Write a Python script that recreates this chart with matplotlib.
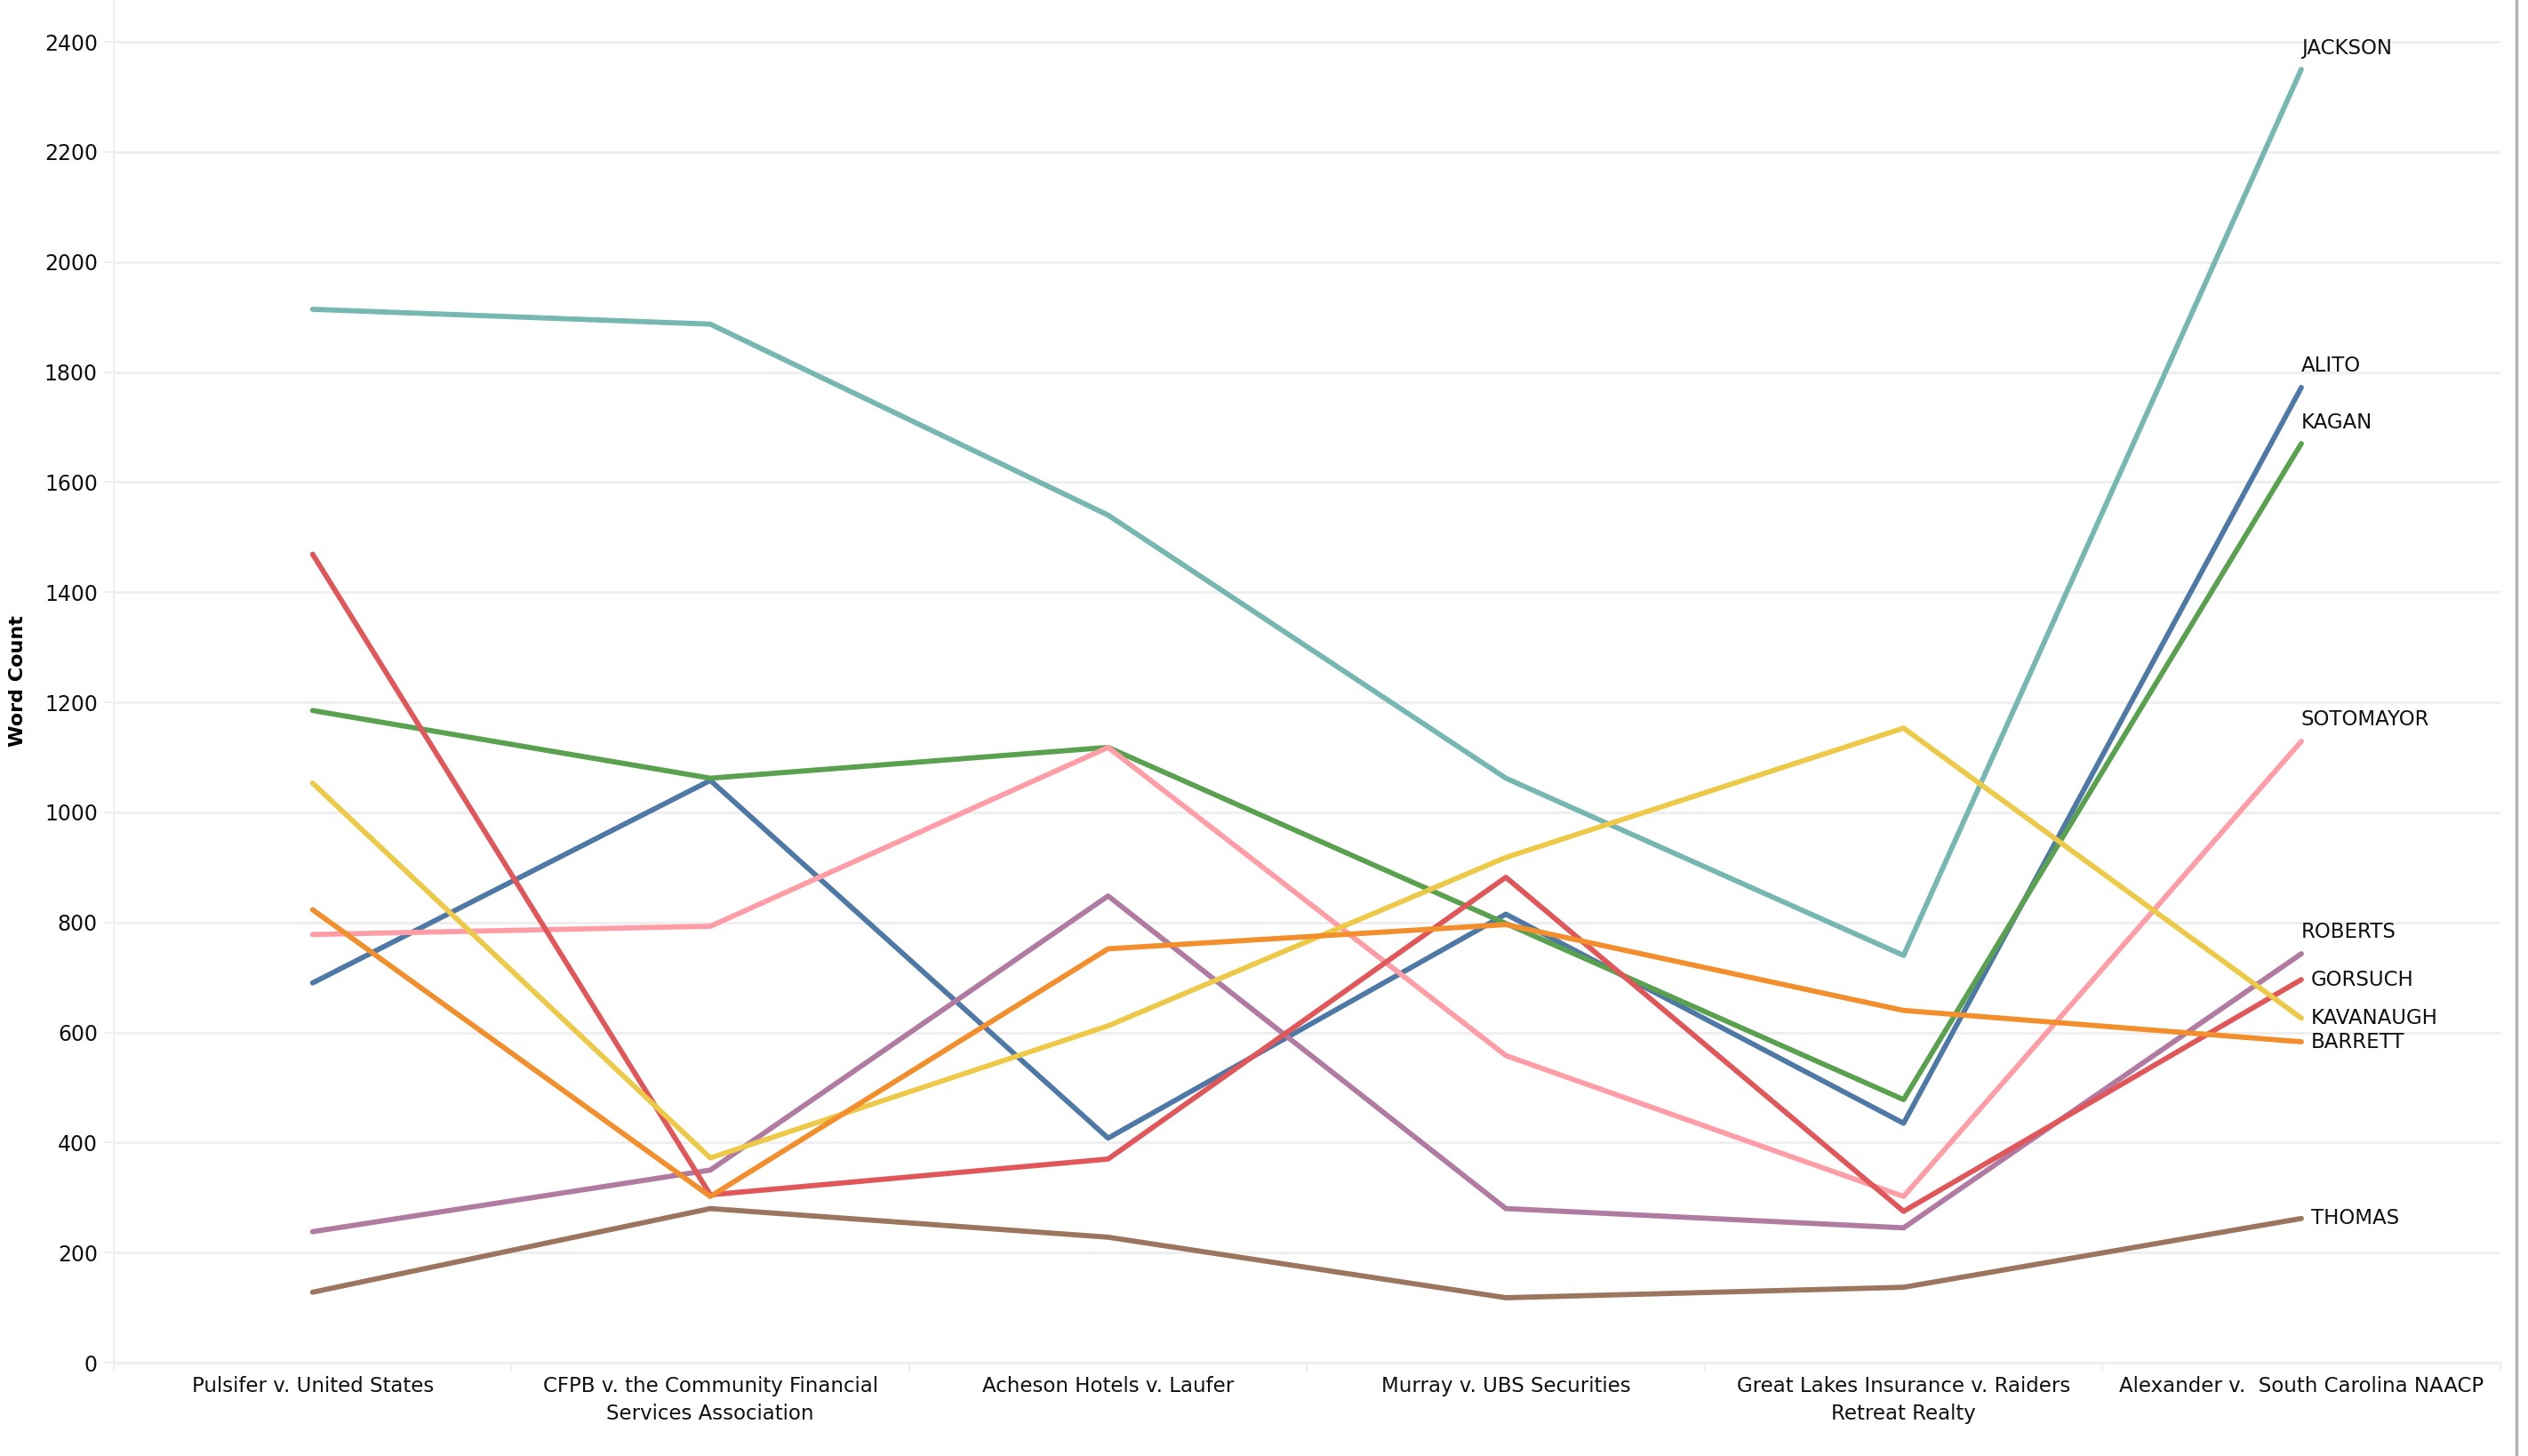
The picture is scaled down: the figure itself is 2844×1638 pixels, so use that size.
import matplotlib.pyplot as plt
from matplotlib.lines import Line2D

cases = [
    'Pulsifer v. United States',
    'CFPB v. the Community Financial\nServices Association',
    'Acheson Hotels v. Laufer',
    'Murray v. UBS Securities',
    'Great Lakes Insurance v. Raiders\nRetreat Realty',
    'Alexander v.  South Carolina NAACP',
]

jackson = [1914, 1887, 1540, 1062, 740, 2350]
alito = [690, 1058, 408, 815, 435, 1772]
kagan = [1185, 1062, 1118, 798, 478, 1670]
sotomayor = [778, 793, 1118, 558, 302, 1129]
roberts = [238, 350, 848, 280, 245, 743]
gorsuch = [1469, 305, 370, 882, 275, 696]
kavanaugh = [1053, 372, 612, 918, 1153, 626]
barrett = [823, 302, 752, 796, 640, 583]
thomas = [128, 280, 228, 118, 137, 262]

justices = ['JACKSON', 'ALITO', 'KAGAN', 'SOTOMAYOR', 'ROBERTS',
            'GORSUCH', 'KAVANAUGH', 'BARRETT', 'THOMAS']
series = [jackson, alito, kagan, sotomayor, roberts,
          gorsuch, kavanaugh, barrett, thomas]
colors = ['#76B7B2', '#4E79A7', '#59A14F', '#FF9DA7', '#B07AA1',
          '#E15759', '#EDC948', '#F28E2B', '#9C755F']
# labels placed above the end point vs. to the right of it
label_above = ['JACKSON', 'ALITO', 'KAGAN', 'SOTOMAYOR', 'ROBERTS']

fig = plt.figure(figsize=(28.44, 16.38), dpi=100)
ax = fig.add_axes([0.045, 0.0641, 0.944, 0.9359])

x = list(range(len(cases)))
for name, vals, c in zip(justices, series, colors):
    ax.plot(x, vals, color=c, linewidth=4.2, solid_capstyle='round',
            solid_joinstyle='round', zorder=3)
    if name in label_above:
        ax.annotate(name, (x[-1], vals[-1]), xytext=(0, 9),
                    textcoords='offset points', ha='left', va='bottom',
                    fontsize=16.5, color='#111111', zorder=4)
    else:
        ax.annotate(name, (x[-1], vals[-1]), xytext=(8, 0),
                    textcoords='offset points', ha='left', va='center',
                    fontsize=16.5, color='#111111', zorder=4)

ax.set_xlim(-0.5, len(cases) - 0.5)
ax.set_ylim(0, 2476)
ax.set_yticks(range(0, 2401, 200))
ax.set_xticks(x)
ax.set_xticklabels(cases, fontsize=16.5, linespacing=1.45, color='#111111')
ax.tick_params(axis='x', length=0, pad=11)
ax.tick_params(axis='y', length=7, color='#eeeeee', width=1.5,
               labelsize=17, pad=6, labelcolor='#111111')

# separators between categories below the axis
ax.set_xticks([i - 0.5 for i in range(len(cases) + 1)], minor=True)
ax.tick_params(axis='x', which='minor', length=7, color='#eeeeee', width=1.5)

ax.grid(axis='y', color='#efefef', linewidth=2.2, zorder=0)
ax.set_axisbelow(True)
for s in ['top', 'right']:
    ax.spines[s].set_visible(False)
ax.spines['left'].set_color('#efefef')
ax.spines['left'].set_linewidth(1.5)
ax.spines['bottom'].set_color('#efefef')
ax.spines['bottom'].set_linewidth(2.2)

ax.set_ylabel('Word Count', fontsize=16, fontweight='bold', labelpad=14)

fig.add_artist(Line2D([0.9955, 0.9955], [0, 1], color='#b0b0b0',
                      linewidth=2.5, transform=fig.transFigure))

fig.savefig('out.png', dpi=100, facecolor='white')
